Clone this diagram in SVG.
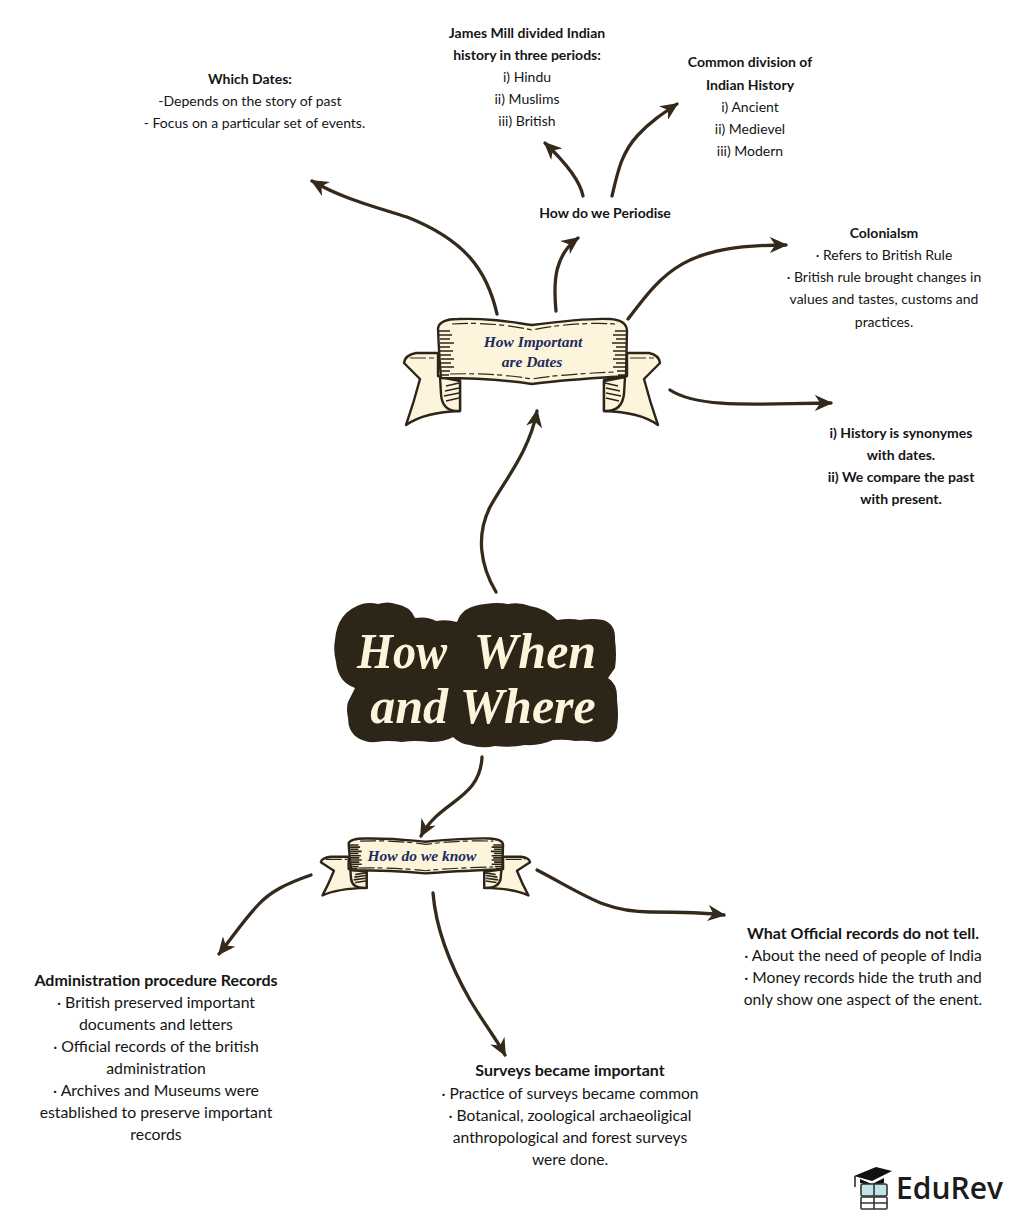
<svg xmlns="http://www.w3.org/2000/svg" xmlns:xlink="http://www.w3.org/1999/xlink" width="1024" height="1217" viewBox="0 0 1024 1217">
<style>
.t{font-family:"Lato","Liberation Sans",sans-serif;font-size:14px;fill:#151515;text-anchor:middle}
.l{font-size:15.6px}
.la{font-size:15.8px}
.lb{font-size:16px}
.b{font-weight:700}
.c{fill:none;stroke:#35291c;stroke-width:3.3;stroke-linecap:round}
.rf{fill:#fdf4dc;stroke:#2e2519;stroke-width:2.4;stroke-linejoin:round;vector-effect:non-scaling-stroke}
.rh{fill:none;stroke:#2e2519;stroke-width:1.6;vector-effect:non-scaling-stroke}
.rd{fill:none;stroke:#2e2519;stroke-width:1.2;stroke-dasharray:16 3 5 4;vector-effect:non-scaling-stroke}
.s{font-family:"Liberation Serif",serif;font-style:italic;font-weight:700;text-anchor:middle}
.bn{fill:#1c2a5e;font-size:15.5px}
.ti{fill:#fdf4dc;font-size:50px}
</style>
<defs>
<marker id="a" viewBox="0 0 20 18" refX="18" refY="9" markerWidth="18" markerHeight="16.2" markerUnits="userSpaceOnUse" orient="auto">
<path d="M0,0 L20,9 L0,18 L6,9 Z" fill="#35291c"/>
</marker>
<g id="ribbon">
<path class="rf" d="M438,353 L416,353 Q405,355 404,363 L420,379 Q414,402 406,425 Q425,412 460,411 L460,380 L438,376 Z"/>
<path class="rf" d="M627,353 L649,353 Q659,355 660,363 L644,379 Q650,402 658,425 Q640,412 604,411 L604,380 L627,376 Z"/>
<path class="rf" d="M460,381 L440,377 L441,394 Q442,412 460,411 Z"/>
<path class="rf" d="M604,381 L625,377 L624,394 Q622,412 604,411 Z"/>
<path class="rf" d="M438,328 Q440,319 458,319 C490,318 510,322 532,325 C555,322 590,318 610,319 Q626,320 627,330 L626,376 C600,378 560,380 532,384 C505,380 470,378 441,378 Q439,355 438,328 Z"/>
<path class="rh" d="M439,331h11M439,335h13M440,339h10M440,343h14M440,347h10M440,351h13M440,355h11M441,359h13M441,363h10M441,367h13M441,371h9M441,375h8M626,331h-11M626,335h-13M626,339h-10M626,343h-14M626,347h-10M626,351h-13M626,355h-11M626,359h-13M626,363h-10M626,367h-13M626,371h-9M626,375h-8"/>
<path class="rd" d="M452,324 C480,322 510,325 532,330 C555,325 590,322 615,324M450,374 C480,373 510,375 532,379 C555,375 590,373 615,372M410,358H436M630,358H654"/>
<path class="rh" d="M446,386l13,-3M445,391l14,-3M444,396l15,-3M446,401l13,-3M618,386l-13,-3M620,391l-14,-3M621,396l-15,-3M619,401l-13,-3"/>
</g>
</defs>
<g id="connectors">
<path class="c" marker-end="url(#a)" d="M497,314 C487,270 465,240 407,217 C365,204 340,197 312,181"/>
<path class="c" marker-end="url(#a)" d="M556,311 C553,280 555,255 578,238"/>
<path class="c" marker-end="url(#a)" d="M583,196 C580,180 566,163 545,143"/>
<path class="c" marker-end="url(#a)" d="M612,196 C618,170 622,152 638,135 C650,122 662,114 677,104"/>
<path class="c" marker-end="url(#a)" d="M628,319 C665,270 685,245 786,245"/>
<path class="c" marker-end="url(#a)" d="M670,390 C700,410 770,403 831,403"/>
<path class="c" marker-end="url(#a)" d="M496,592 C480,565 476,535 490,507 C505,480 530,450 537,411"/>
<path class="c" marker-end="url(#a)" d="M482,757 C480,800 440,800 421,836"/>
<path class="c" marker-end="url(#a)" d="M311,875 C285,884 270,892 258,905 C242,922 232,938 219,954"/>
<path class="c" marker-end="url(#a)" d="M433,893 C436,930 450,965 470,1000 C485,1025 497,1040 505,1055"/>
<path class="c" marker-end="url(#a)" d="M537,870 C585,895 605,912 650,912 C680,912 700,912 724,915"/>
</g>
<g id="center">
<path fill="#2e2519" d="M335,640 Q337,612 362,604 Q370,602 378,604 Q388,601 396,604 Q410,606 415,618 Q428,616 436,621 Q447,619 457,622 Q462,606 485,604 Q498,602 508,604 Q520,602 530,606 Q545,608 557,620 Q570,618 580,620 Q592,618 603,620 Q616,624 615,640 Q617,655 615,668 L608,678 Q618,684 617,700 Q619,715 617,728 Q612,742 596,742 Q585,740 575,741 Q565,739 553,740 Q540,746 525,745 Q510,748 495,746 Q482,749 470,745 Q460,744 453,737 Q445,742 430,742 Q415,740 402,742 Q388,740 376,742 Q366,743 358,738 Q348,732 348,718 Q346,708 348,702 L355,688 Q338,682 336,662 Q333,650 335,640 Z"/>
<text class="s ti"><tspan x="402" y="668" textLength="90" lengthAdjust="spacingAndGlyphs">How</tspan><tspan x="535" y="668">When</tspan></text>
<text class="s ti" x="483" y="723">and Where</text>
</g>
<g id="banner-dates">
<use xlink:href="#ribbon" href="#ribbon"/>
<text class="s bn" x="533" y="347">How Important</text>
<text class="s bn" x="532" y="367">are Dates</text>
</g>
<g id="banner-know">
<use xlink:href="#ribbon" href="#ribbon" transform="translate(-9.2,667.2) scale(.817,.537)"/>
<text class="s bn" x="422" y="861">How do we know</text>
</g>
<g id="which-dates">
<text class="t b" x="250" y="84">Which Dates:</text>
<text class="t" x="250" y="106">-Depends on the story of past</text>
<text class="t" x="254.5" y="128">- Focus on a particular set of events.</text>
</g>
<g id="james-mill">
<text class="t b" x="527" y="38">James Mill divided Indian</text>
<text class="t b" x="527" y="60">history in three periods:</text>
<text class="t" x="527" y="82">i) Hindu</text>
<text class="t" x="527" y="104">ii) Muslims</text>
<text class="t" x="527" y="126">iii) British</text>
</g>
<g id="common-division">
<text class="t b" x="750" y="67">Common division of</text>
<text class="t b" x="750" y="90">Indian History</text>
<text class="t" x="750" y="112">i) Ancient</text>
<text class="t" x="750" y="134">ii) Medievel</text>
<text class="t" x="750" y="156">iii) Modern</text>
</g>
<g id="periodise"><text class="t b" x="605" y="218">How do we Periodise</text></g>
<g id="colonialism">
<text class="t b" x="884" y="238">Colonialsm</text>
<text class="t" x="884" y="260">· Refers to British Rule</text>
<text class="t" x="884" y="282">· British rule brought changes in</text>
<text class="t" x="884" y="304">values and tastes, customs and</text>
<text class="t" x="884" y="327">practices.</text>
</g>
<g id="synonymes">
<text class="t b" x="901" y="438">i) History is synonymes</text>
<text class="t b" x="901" y="460">with dates.</text>
<text class="t b" x="901" y="482">ii) We compare the past</text>
<text class="t b" x="901" y="504">with present.</text>
</g>
<g id="administration">
<text class="t lb b" x="156" y="986">Administration procedure Records</text>
<text class="t la" x="156" y="1008">· British preserved important</text>
<text class="t la" x="156" y="1030">documents and letters</text>
<text class="t la" x="156" y="1052">· Official records of the british</text>
<text class="t la" x="156" y="1074">administration</text>
<text class="t la" x="156" y="1096">· Archives and Museums were</text>
<text class="t la" x="156" y="1118">established to preserve important</text>
<text class="t la" x="156" y="1140">records</text>
</g>
<g id="surveys">
<text class="t lb b" x="570" y="1076">Surveys became important</text>
<text class="t l" x="570" y="1099">· Practice of surveys became common</text>
<text class="t l" x="570" y="1121">· Botanical, zoological archaeoligical</text>
<text class="t l" x="570" y="1143">anthropological and forest surveys</text>
<text class="t l" x="570" y="1165">were done.</text>
</g>
<g id="official">
<text class="t lb b" x="863" y="939">What Official records do not tell.</text>
<text class="t l" x="863" y="961">· About the need of people of India</text>
<text class="t l" x="863" y="983">· Money records hide the truth and</text>
<text class="t l" x="863" y="1005">only show one aspect of the enent.</text>
</g>
<g id="logo">
<path fill="#111" d="M854,1176 L876,1167 L892,1171 L872,1181 Z M860,1179 L872,1184 L884,1178 L884,1183 Q872,1187 860,1183 Z"/>
<path fill="none" stroke="#111" stroke-width="1.4" d="M855,1176 V1187"/>
<rect x="861" y="1184" width="26" height="12" rx="2" fill="#bfe3e6" stroke="#333" stroke-width="1.6"/>
<path fill="none" stroke="#333" stroke-width="1.6" d="M874,1184 V1196"/>
<rect x="861" y="1197" width="26" height="12" rx="1" fill="#fff" stroke="#333" stroke-width="1.6"/>
<path fill="none" stroke="#333" stroke-width="1.6" d="M874,1197 V1209 M861,1203 H887"/>
<text font-family="Open Sans,Noto Sans,sans-serif" font-size="31" font-weight="600" fill="#1c1c1c" x="896" y="1199" textLength="107" lengthAdjust="spacingAndGlyphs">EduRev</text>
</g>
</svg>
